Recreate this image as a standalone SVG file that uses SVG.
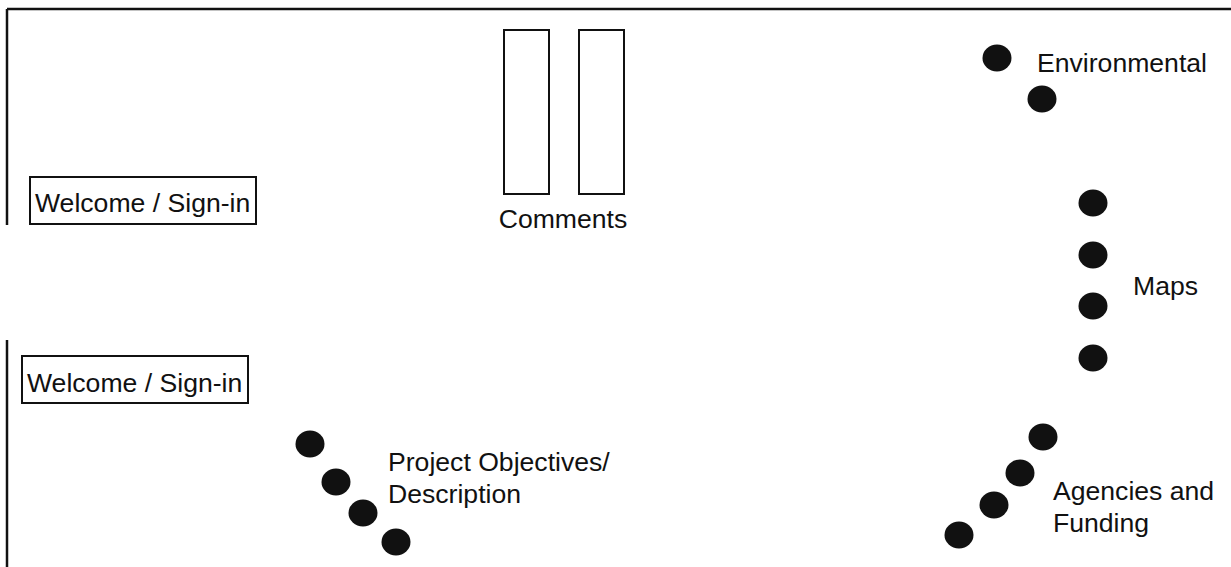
<svg xmlns="http://www.w3.org/2000/svg" width="1231" height="567" viewBox="0 0 1231 567">
<style>
.t{font-family:"Liberation Sans",Arial,sans-serif;font-size:26.6px;fill:#111}
.box{fill:none;stroke:#111;stroke-width:2}
.dot{fill:#111}
.frame{stroke:#111;stroke-width:2.5;fill:none}
</style>
<rect width="1231" height="567" fill="#fff"/>
<g id="frame">
<line class="frame" x1="7" y1="9" x2="1231" y2="9"/>
<line class="frame" x1="7" y1="9" x2="7" y2="225"/>
<line class="frame" x1="7" y1="340" x2="7" y2="567"/>
</g>
<g id="welcome1">
<rect class="box" x="30" y="177" width="226" height="47"/>
<text class="t" x="35" y="212">Welcome / Sign-in</text>
</g>
<g id="welcome2">
<rect class="box" x="22" y="356" width="226" height="47"/>
<text class="t" x="27" y="392">Welcome / Sign-in</text>
</g>
<g id="comments">
<rect class="box" x="504" y="30" width="45" height="164"/>
<rect class="box" x="579" y="30" width="45" height="164"/>
<text class="t" x="563" y="228" text-anchor="middle">Comments</text>
</g>
<g id="environmental">
<ellipse class="dot" cx="997" cy="58" rx="14.5" ry="13.5"/>
<ellipse class="dot" cx="1042" cy="99" rx="14.5" ry="13.5"/>
<text class="t" x="1037" y="72">Environmental</text>
</g>
<g id="maps">
<ellipse class="dot" cx="1093" cy="203" rx="14.5" ry="13.5"/>
<ellipse class="dot" cx="1093" cy="255" rx="14.5" ry="13.5"/>
<ellipse class="dot" cx="1093" cy="306" rx="14.5" ry="13.5"/>
<ellipse class="dot" cx="1093" cy="358" rx="14.5" ry="13.5"/>
<text class="t" x="1133" y="295">Maps</text>
</g>
<g id="agencies">
<ellipse class="dot" cx="1043" cy="437" rx="14.5" ry="13.5"/>
<ellipse class="dot" cx="1020" cy="473" rx="14.5" ry="13.5"/>
<ellipse class="dot" cx="994" cy="505" rx="14.5" ry="13.5"/>
<ellipse class="dot" cx="959" cy="535" rx="14.5" ry="13.5"/>
<text class="t" x="1053" y="500">Agencies and</text>
<text class="t" x="1053" y="532">Funding</text>
</g>
<g id="project">
<ellipse class="dot" cx="310" cy="444" rx="14.5" ry="13.5"/>
<ellipse class="dot" cx="336" cy="482" rx="14.5" ry="13.5"/>
<ellipse class="dot" cx="363" cy="513" rx="14.5" ry="13.5"/>
<ellipse class="dot" cx="396" cy="542" rx="14.5" ry="13.5"/>
<text class="t" x="388" y="471">Project Objectives/</text>
<text class="t" x="388" y="503">Description</text>
</g>
<g id="connectors"></g>
</svg>
